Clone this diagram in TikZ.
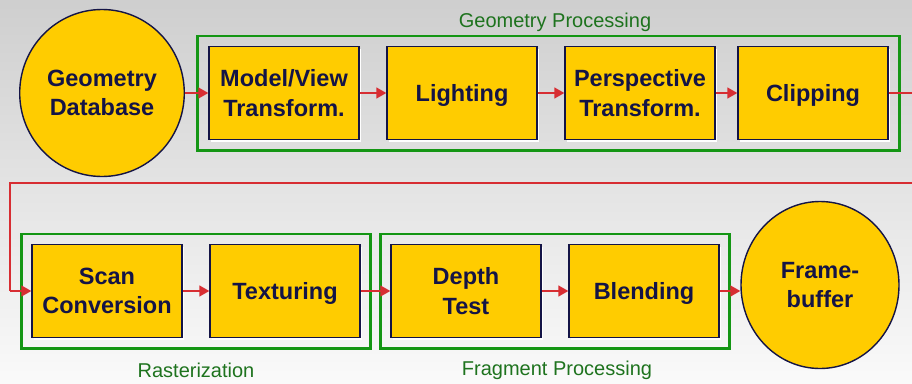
\documentclass[tikz,border=0pt]{standalone}
\usepackage{fontspec}
\setmainfont{Liberation Sans}
\usetikzlibrary{arrows.meta,shapes.geometric,fit,shadows}
\definecolor{stageyellow}{RGB}{255,204,0}
\definecolor{stageink}{RGB}{20,20,70}
\definecolor{groupgreen}{RGB}{20,150,20}
\definecolor{labelgreen}{RGB}{30,115,30}
\definecolor{flowred}{RGB}{215,45,50}

\begin{document}
\begin{tikzpicture}[x=1pt,y=-1pt,
node distance=178pt,
stagebox/.style={rectangle, draw=stageink, line width=1.4pt, fill=stageyellow, minimum width=150pt, minimum height=93pt, align=center, text=stageink, text depth=0pt, font=\fontsize{23.5}{29.5}\selectfont\bfseries, drop shadow={fill=white, opacity=1, shadow xshift=2pt, shadow yshift=-2pt}},
endnode/.style={ellipse, draw=stageink, line width=1.4pt, fill=stageyellow, minimum width=158pt, minimum height=167pt, align=center, text=stageink, text depth=0pt, font=\fontsize{23.5}{29.5}\selectfont\bfseries},
groupframe/.style={rectangle, draw=groupgreen, line width=2.6pt, inner sep=10pt},
grouplabel/.style={text=labelgreen, font=\fontsize{20}{24}\selectfont},
flow/.style={draw=flowred, line width=1.6pt, -{Triangle[length=10pt,width=11pt]}},
]
\useasboundingbox (0,0) rectangle (912,383);
\shade[top color=gray!38, bottom color=gray!4] (0,0) rectangle (912,383);

%Nodes
\node[endnode]   (dbase)  at (102,93)            {Geometry\\Database};
\node[stagebox]  (model)  at (284,93)            {Model/View\\Transform.};
\node[stagebox]  (light)  [right of=model]       {Lighting};
\node[stagebox]  (persp)  [right of=light]       {Perspective\\Transform.};
\node[stagebox]  (clip)   [right of=persp, xshift=-5pt] {Clipping};

\node[stagebox]  (scan)   at (107,291)           {Scan\\Conversion};
\node[stagebox]  (tex)    [right of=scan]        {Texturing};
\node[stagebox]  (depth)  [right of=tex, xshift=3pt]  {Depth\\Test};
\node[stagebox]  (blend)  [right of=depth]       {Blending};
\node[endnode]   (fbuf)   at (820,285)           {Frame-\\buffer};

%Groups
\node[groupframe, fit=(model)(clip), inner xsep=11pt] (geomgrp) {};
\node[groupframe, fit=(scan)(tex)]   (rastgrp) {};
\node[groupframe, fit=(depth)(blend)] (fraggrp) {};
\node[grouplabel] (geomlbl) at (555,22)  {Geometry Processing};
\node[grouplabel] (rastlbl) at (196,370) {Rasterization};
\node[grouplabel] (fraglbl) at (557,370) {Fragment Processing};

%Lines
\coordinate (wrapa) at (912,97);
\coordinate (wrapb) at (912,183);
\coordinate (wrapc) at (10,183);
\coordinate (wrapd) at (10,291);
\draw[flowred, line width=1.2pt] (clip.east) -- (clip.east -| wrapa);
\draw[flowred, line width=1.2pt] (wrapb) -- (wrapc) -- (wrapd);
\draw[flow] (wrapd) -- (scan.west);
\draw[flow] (dbase.east) -- (model.west);
\draw[flow] (model) -- (light);
\draw[flow] (light) -- (persp);
\draw[flow] (persp) -- (clip);
\draw[flow] (scan) -- (tex);
\draw[flow] (tex) -- (depth);
\draw[flow] (depth) -- (blend);
\draw[flow] (blend.east) -- (blend.east -| fbuf.west);
\end{tikzpicture}
\end{document}
